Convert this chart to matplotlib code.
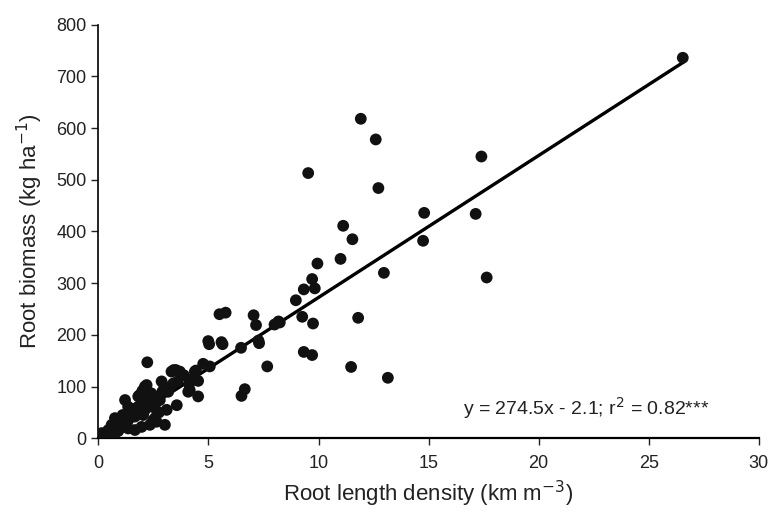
import numpy as np
import matplotlib.pyplot as plt

plt.rcParams['font.family'] = ['Liberation Sans', 'DejaVu Sans']

# root length density (km m-3) and root biomass (kg ha-1)
rld = [26.55, 17.40, 17.14, 17.64, 11.92, 12.60, 9.53, 12.72, 14.80, 11.12,
       11.54, 14.75, 9.95, 11.00, 12.97, 9.71, 9.83, 9.33, 8.97, 8.24,
       9.26, 9.75, 11.80, 9.33, 9.71, 11.48, 13.15, 5.50, 5.78, 7.05,
       7.16, 8.00, 8.18, 4.99, 5.03, 5.59, 5.64, 7.27, 7.30, 6.48,
       7.67, 5.06, 4.76, 4.43, 3.70, 3.88, 4.53, 4.12, 4.08, 4.53,
       6.65, 6.50, 2.22, 3.42, 3.52, 3.32, 3.83, 4.38, 4.15, 4.15,
       2.19, 2.87, 1.21, 1.81, 3.56, 3.10, 2.34, 3.02, 2.57, 0.75,
       1.13, 3.40, 3.17, 2.79, 2.49, 2.64, 2.03, 1.96, 2.34, 2.34,
       2.11, 1.88, 2.11, 1.35, 1.81, 2.11, 1.66, 1.20, 0.60, 0.98,
       1.35, 0.45, 0.15, 0.05, 0.30, 0.75, 1.66, 1.96, 0.40, 0.50,
       0.90, 1.00, 1.30, 1.50, 1.70, 2.50, 2.60, 2.90, 3.20, 3.00,
       1.60, 2.40, 0.20, 0.65, 1.10, 2.70, 2.20, 1.40, 0.85, 3.60,
       2.00, 2.75]
biomass = [736, 545, 434, 311, 618, 578, 513, 484, 436, 411,
           385, 382, 338, 347, 320, 308, 290, 288, 267, 224,
           235, 222, 233, 167, 161, 138, 117, 240, 243, 238,
           219, 220, 226, 188, 182, 186, 182, 189, 184, 175,
           139, 139, 144, 131, 129, 122, 111, 105, 90, 81,
           95, 82, 147, 132, 132, 129, 122, 129, 113, 93,
           103, 110, 74, 81, 64, 55, 26, 26, 39, 39,
           22, 106, 90, 74, 35, 32, 45, 81, 81, 64,
           100, 84, 77, 61, 61, 55, 42, 35, 26, 22,
           19, 16, 10, 3, 6, 10, 16, 22, 8, 12,
           14, 28, 31, 50, 58, 60, 68, 90, 95, 100,
           50, 87, 5, 18, 45, 80, 70, 38, 24, 110,
           92, 50]

slope, intercept = 27.45, -2.1
eq_text = 'y = 274.5x - 2.1; r$^2$ = 0.82***'

fig = plt.figure(figsize=(7.75, 5.11), dpi=100)
ax = fig.add_axes([0.127, 0.1423, 0.852, 0.8094])

ax.scatter(rld, biomass, s=72, color='#111111', edgecolors='none', zorder=3)
xl = np.array([0.0, max(rld)])
ax.plot(xl, slope * xl + intercept, color='black', lw=2.4, zorder=2)

ax.set_xlim(0, 30)
ax.set_ylim(0, 800)
ax.set_xticks(range(0, 31, 5))
ax.set_yticks(range(0, 801, 100))
ax.spines['top'].set_visible(False)
ax.spines['right'].set_visible(False)
ax.spines['bottom'].set_linewidth(1.6)
ax.spines['left'].set_linewidth(1.2)
ax.tick_params(direction='out', length=5, width=1, labelsize=13, colors='#222222')
ax.tick_params(axis='x', pad=7)

ax.set_xlabel('Root length density (km m$^{-3}$)', fontsize=16, color='#222222', labelpad=5)
ax.set_ylabel('Root biomass (kg ha$^{-1}$)', fontsize=16, color='#222222', labelpad=8)
ax.text(16.55, 58, eq_text, fontsize=14, va='center', ha='left', color='#222222')

fig.savefig('out.png', dpi=100)
